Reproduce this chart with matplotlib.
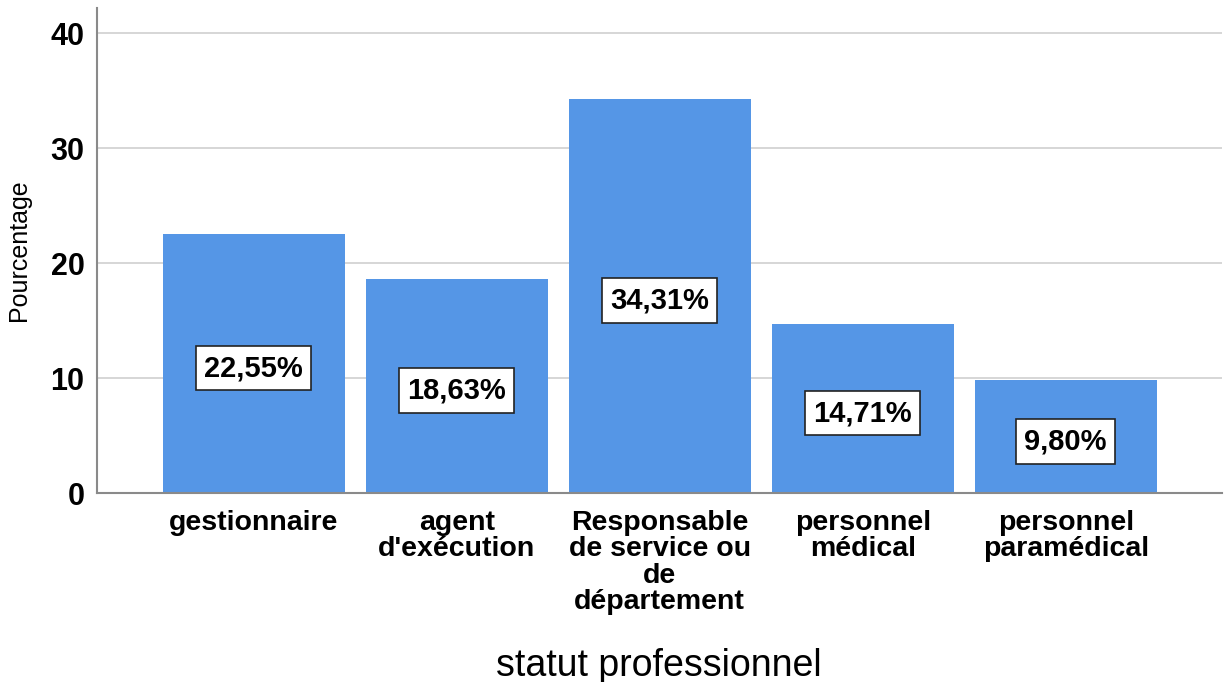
import matplotlib.pyplot as plt
import numpy as np

plt.rcParams['font.family'] = ['Liberation Sans', 'DejaVu Sans']

categories = ['gestionnaire', "agent\nd'exécution", 'Responsable\nde service ou\nde\ndépartement',
              'personnel\nmédical', 'personnel\nparamédical']
percent = [22.55, 18.63, 34.31, 14.71, 9.80]
value_labels = ['22,55%', '18,63%', '34,31%', '14,71%', '9,80%']
y_ticks = [0, 10, 20, 30, 40]

fig = plt.figure(figsize=(12.24, 6.82), dpi=100)
ax = fig.add_axes([0.0792, 0.277, 0.9188, 0.711])

x = np.arange(len(categories))
ax.bar(x, percent, width=0.897, color='#5596E6', zorder=2)

# value labels in white boxes, a bit under the middle of each bar
for xi, v, lab in zip(x, percent, value_labels):
    ax.text(xi, v / 2 - 0.4, lab, ha='center', va='center', fontsize=21, fontweight='bold',
            zorder=3, bbox=dict(boxstyle='square,pad=0.28', fc='white', ec='#222222', lw=1.2))

ax.set_xlim(-0.773, 4.768)
ax.set_ylim(0, 42.2)
ax.set_yticks(y_ticks)
ax.set_yticklabels([str(t) for t in y_ticks], fontsize=22, fontweight='bold')
ax.set_xticks(x)
ax.set_xticklabels(categories, fontsize=20.5, fontweight='bold', linespacing=1.02, va='top')
ax.tick_params(axis='both', length=0)
ax.tick_params(axis='y', pad=9)
ax.tick_params(axis='x', pad=12)

ax.yaxis.grid(True, color='#d0d0d0', lw=1.2, zorder=0)
ax.set_axisbelow(True)
for s in ['top', 'right']:
    ax.spines[s].set_visible(False)
for s in ['left', 'bottom']:
    ax.spines[s].set_color('#8a8a8a')
    ax.spines[s].set_linewidth(1.5)

ax.set_ylabel('Pourcentage', fontsize=18, labelpad=14)
ax.set_xlabel('statut professionnel', fontsize=27, labelpad=24)

fig.savefig('out.png', dpi=100)
